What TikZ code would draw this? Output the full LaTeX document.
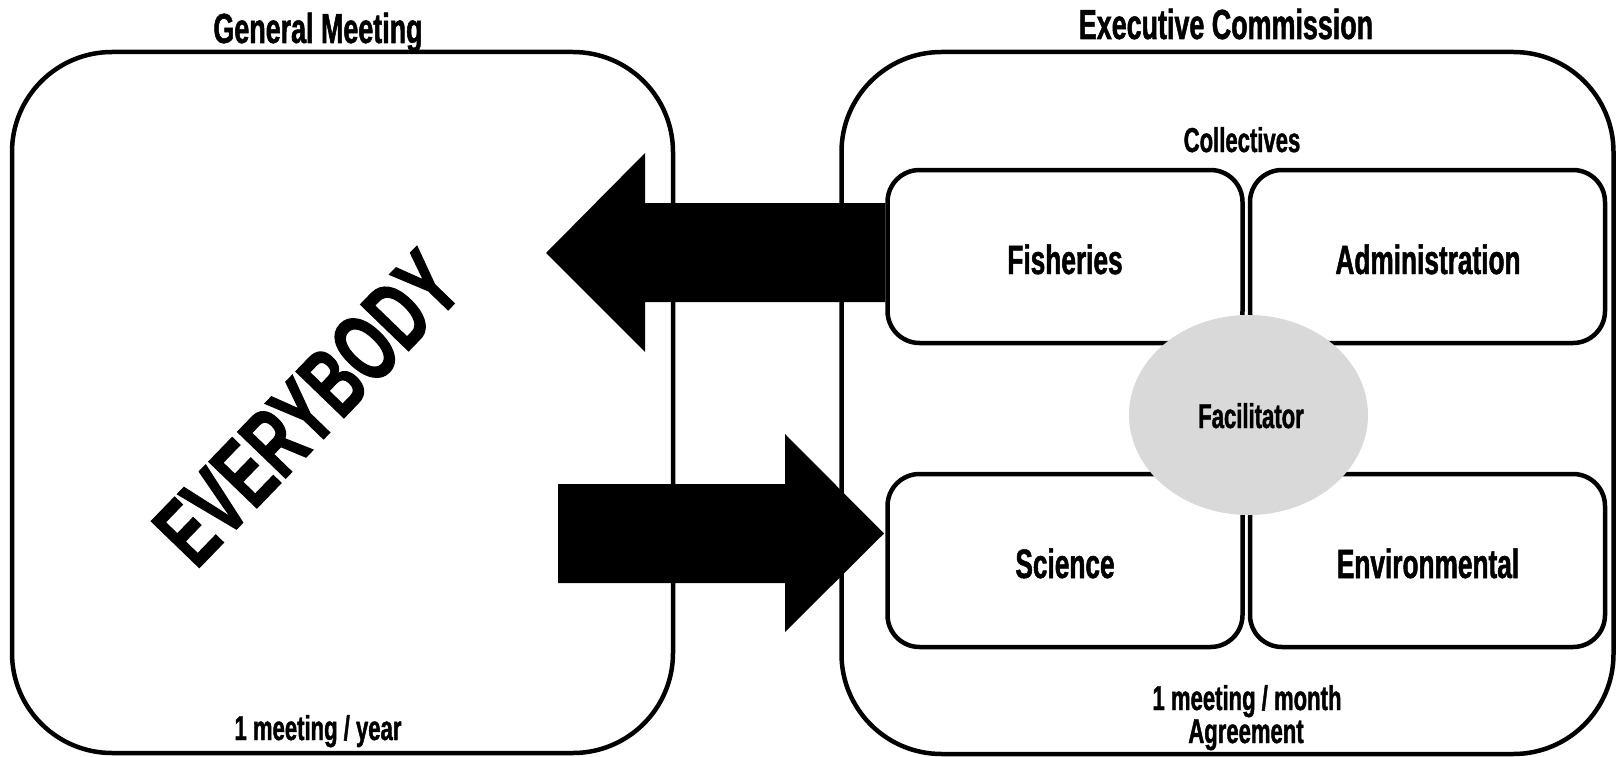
\documentclass[tikz,border=0pt]{standalone}
\usepackage{fontspec}
\setmainfont{Liberation Sans}[FakeStretch=0.64, BoldFeatures={FakeBold=1.2}]
\usetikzlibrary{shapes.geometric}
\begin{document}
\begin{tikzpicture}[x=1pt,y=-1pt,
  bigbox/.style={draw, line width=4.5pt, rounded corners=100pt, inner sep=0pt},
  subbox/.style={draw, line width=4.5pt, rounded corners=32pt, fill=white, inner sep=0pt,
                 minimum width=355pt, minimum height=173pt},
  lbl/.style={font=\bfseries\fontsize{41}{48}\selectfont, inner sep=0pt, anchor=base},
  ttl/.style={font=\bfseries\fontsize{42}{50}\selectfont, inner sep=0pt, anchor=base},
  smalltxt/.style={font=\bfseries\fontsize{34.5}{40}\selectfont, inner sep=0pt, anchor=base},
  blockarrow/.style={fill=black}
]
\useasboundingbox (0,0) rectangle (1619,757);
% big boxes
\node[bigbox, minimum width=661pt, minimum height=701pt] (gm) at (342.5,402.5) {};
\node[bigbox, minimum width=772pt, minimum height=702pt] (ec) at (1227.5,403) {};
% sub boxes
\node[subbox] (fish) at (1065,256.5) {};
\node[subbox] (admin) at (1427.5,256.5) {};
\node[subbox] (sci) at (1065,560.5) {};
\node[subbox] (env) at (1427.5,560.5) {};
% block arrows
\coordinate (ltip) at (546,253);
\coordinate (rtip) at (884,533.5);
\fill[blockarrow] (fish.west |- 0,203) -- (645,203) -- (645,153) -- (ltip) -- (645,352) -- (645,302) -- (fish.west |- 0,302) -- cycle;
\fill[blockarrow] (558,484) -- (785,484) -- (785,434) -- (rtip) -- (785,632) -- (785,583) -- (558,583) -- cycle;
% facilitator
\node[ellipse, fill=gray!30, inner sep=0pt, minimum width=239pt, minimum height=200pt] (fac) at (1248.5,415) {};
% texts
\node[ttl] (gmt) at (318,43) {General Meeting};
\node[ttl] (ect) at (1226,39) {Executive Commission};
\node[smalltxt] (coll) at (1242,152) {Collectives};
\node[lbl] (fisht) at (1065,274) {Fisheries};
\node[lbl] (admint) at (1428,274) {Administration};
\node[lbl] (scit) at (1065,578) {Science};
\node[lbl] (envt) at (1428,578) {Environmental};
\node[smalltxt] (fact) at (1251,428) {Facilitator};
\node[smalltxt] (gmfreq) at (318,740) {1 meeting / year};
\node[smalltxt] (ecfreq) at (1247,710) {1 meeting / month};
\node[smalltxt] (agr) at (1246,743) {Agreement};
\node[font=\bfseries\fontsize{97}{110}\selectfont, inner sep=0pt, rotate=46] (every) at (307,408) {EVERYBODY};
\end{tikzpicture}
\end{document}
